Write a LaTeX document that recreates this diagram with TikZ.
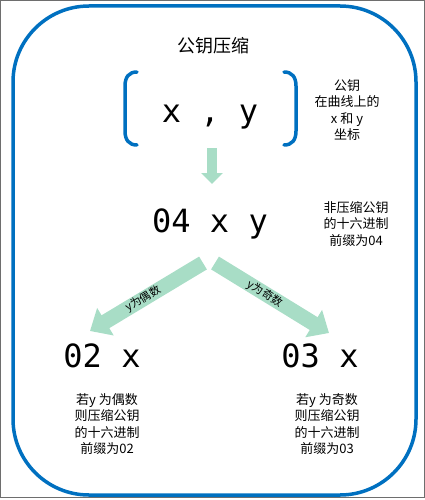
\documentclass[tikz,border=0pt]{standalone}
\usepackage{fontspec}
\setmainfont{Noto Sans CJK SC}
\newfontfamily\codefont{DejaVu Sans Mono}
\usepackage{xcolor}
\usetikzlibrary{arrows.meta,positioning}
\definecolor{frameblue}{RGB}{0,112,192}
\definecolor{mint}{RGB}{168,221,198}
\definecolor{edgegray}{RGB}{110,110,110}

\begin{document}
\begin{tikzpicture}[x=1pt,y=1pt,yscale=-1,xscale=1,
  keytext/.style={font=\codefont\fontsize{32}{38}\selectfont, inner sep=0pt, anchor=base},
  note/.style={font=\fontsize{13}{16.5}\selectfont, align=center, inner sep=0pt},
  tag/.style={font=\fontsize{11}{12}\selectfont, inner sep=0pt},
  fatarrow/.style={draw=mint, line width=15pt, -{Triangle[width=31pt,length=18pt]}},
  downarrow/.style={draw=mint, line width=10pt, -{Triangle[width=21pt,length=11pt]}},
  bracket/.style={draw=frameblue, line width=3.5pt, line cap=round}]
\useasboundingbox (0,0) rectangle (425,500);

%Shape: outer edge
\draw [edgegray, line width=1pt] (0.5,0.5) rectangle (424,497.5);
%Shape: Rounded Rectangle
\draw [frameblue, line width=3.5pt, rounded corners=76pt] (13,6) rectangle (416,495);

% Text Node
\node [font=\fontsize{18}{22}\selectfont] (title) at (213,46) {公钥压缩};

%Curve Lines
\draw [bracket] (137,72) .. controls (129,72) and (125,77) .. (125,86) -- (125,131) .. controls (125,140) and (129,145) .. (137,145);
\draw [bracket] (284,72) .. controls (292,72) and (296,77) .. (296,86) -- (296,131) .. controls (296,140) and (292,145) .. (284,145);

% Text Node
\node [keytext] (point) at (210,122) {x , y};
\node [note] (pointnote) at (347,110) {公钥\\在曲线上的\\x 和 y\\坐标};

% Text Node
\node [keytext] (full) at (210,232) {04 x y};
\node [note] (fullnote) at (356,224) {非压缩公钥\\的十六进制\\前缀为04};

% Text Node
\node [keytext] (even) at (102,367) {02 x};
\node [note] (evennote) at (107,424) {若y 为偶数\\则压缩公钥\\的十六进制\\前缀为02};
\node [keytext] (odd) at (320,367) {03 x};
\node [note] (oddnote) at (327,424) {若y 为奇数\\则压缩公钥\\的十六进制\\前缀为03};

%Straight Lines
\coordinate (down0) at (212,148);
\coordinate (down1) at (212,184);
\draw [downarrow] (down0) -- (down1);

\coordinate (left0) at (203,263);
\coordinate (left1) at (90,331);
\draw [fatarrow] (left0) -- node [tag, pos=0.53, rotate=31] (evenlabel) {y为偶数} (left1);

\coordinate (right0) at (215,263);
\coordinate (right1) at (329,333);
\draw [fatarrow] (right0) -- node [tag, pos=0.44, rotate=-32] (oddlabel) {y为奇数} (right1);

\end{tikzpicture}
\end{document}
